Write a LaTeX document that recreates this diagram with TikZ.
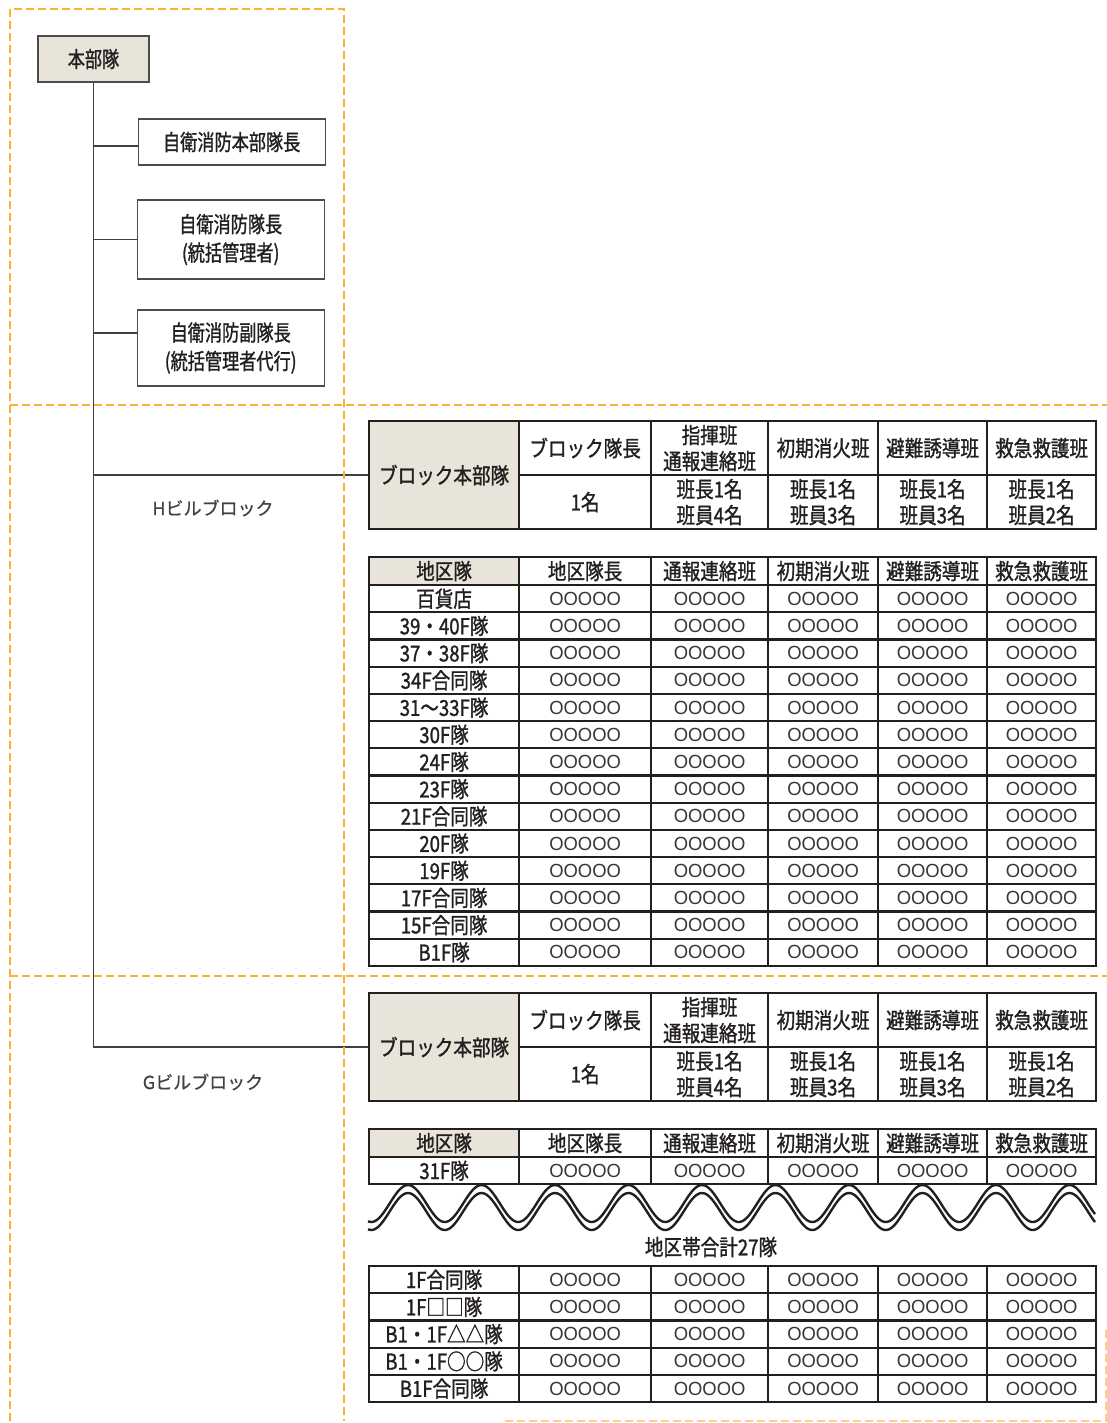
\documentclass[tikz,border=0pt]{standalone}
\usepackage{fontspec}
\newfontfamily\jpT[FakeStretch=0.845,FakeBold=1.2]{Noto Sans CJK JP}
\newfontfamily\jpL[FakeStretch=0.78,FakeBold=1.2]{Noto Sans CJK JP}
\newfontfamily\jpW[FakeBold=0.6]{Noto Sans CJK JP}
\newfontfamily\circf[FakeStretch=0.97]{Liberation Sans}
\definecolor{beige}{RGB}{233,228,218}
\definecolor{tx}{RGB}{35,31,32}
\definecolor{orng}{RGB}{250,178,50}
\newcommand\drow[3]{%
  \node[tcell, minimum width=150pt, minimum height=27.2pt] (#1-0) at (368,#2) {#3};
  \foreach \xx/\ww [count=\ii] in {518/132,650/117,767/110,877/109,986/109}
    \node[ccell, minimum width=\ww pt, minimum height=27.2pt] (#1-\ii) at (\xx,#2) {OOOOO};
}
\newcommand\btable[2]{%
  \pgfmathsetmacro\ya{#2+54}
  \node[tcell, fill=beige, minimum width=150pt, minimum height=108pt] (#1-hq) at (368,#2) {ブロック本部隊};
  \foreach \xx/\ww/\lab [count=\ii] in {518/132/ブロック隊長, 650/117/{指揮班\\通報連絡班}, 767/110/初期消火班, 877/109/避難誘導班, 986/109/救急救護班}
    \node[tcell, minimum width=\ww pt, minimum height=54pt] (#1-a\ii) at (\xx,#2) {\lab};
  \foreach \xx/\ww/\lab [count=\ii] in {518/132/1名, 650/117/{班長1名\\班員4名}, 767/110/{班長1名\\班員3名}, 877/109/{班長1名\\班員3名}, 986/109/{班長1名\\班員2名}}
    \node[tcell, minimum width=\ww pt, minimum height=54pt] (#1-b\ii) at (\xx,\ya) {\lab};
}
\newcommand\hrow[2]{%
  \node[tcell, fill=beige, minimum width=150pt, minimum height=28pt] (#1-0) at (368,#2) {地区隊};
  \foreach \xx/\ww/\lab [count=\ii] in {518/132/地区隊長, 650/117/通報連絡班, 767/110/初期消火班, 877/109/避難誘導班, 986/109/救急救護班}
    \node[tcell, minimum width=\ww pt, minimum height=28pt] (#1-\ii) at (\xx,#2) {\lab};
}
\begin{document}
\begin{tikzpicture}[x=1pt,y=-1pt,
  tcell/.style={draw=tx, line width=2.2pt, anchor=north west, inner sep=0pt, text=tx,
    font=\jpT\fontsize{22}{26}\selectfont, align=center},
  ccell/.style={tcell, font=\circf\fontsize{19}{20}\selectfont, text=tx!90},
  lbox/.style={draw=black!70, line width=1.3pt, text=tx, inner sep=0pt,
    font=\jpL\fontsize{22}{28.5}\selectfont, align=center},
  conn/.style={draw=black!75, line width=1.4pt},
  blab/.style={text=tx!85, font=\jpW\fontsize{18}{20}\selectfont},
  odash/.style={draw=orng, line width=2pt, dash pattern=on 8pt off 4pt},
  wavel/.style={draw=tx, line width=2.4pt}
]
\useasboundingbox (0,0) rectangle (1107,1423);

% headquarters tree
\node[lbox, fill=beige, minimum width=111pt, minimum height=46pt] (hq) at (93.5,59) {本部隊};
\node[lbox, minimum width=187pt, minimum height=46pt] (b1) at (231.7,142) {自衛消防本部隊長};
\node[lbox, minimum width=187pt, minimum height=79pt] (b2) at (230.7,239.6) {自衛消防隊長\\(統括管理者)};
\node[lbox, minimum width=187pt, minimum height=76pt] (b3) at (230.7,348) {自衛消防副隊長\\(統括管理者代行)};

% H block
\btable{H}{420}
\hrow{Hh}{556}
\foreach \lab [count=\r] in {百貨店,39・40F隊,37・38F隊,34F合同隊,31～33F隊,30F隊,24F隊,23F隊,21F合同隊,20F隊,19F隊,17F合同隊,15F合同隊,B1F隊}{
  \pgfmathsetmacro\yy{584+27.2*(\r-1)}
  \drow{Hr\r}{\yy}{\lab}
}
\node[blab] (hlab) at (213,508) {Hビルブロック};

% G block
\btable{G}{992}
\hrow{Gh}{1128}
\drow{Gr1}{1156}{31F隊}
\draw[wavel] plot[domain=368:1095, samples=400] (\x,{1203.5-18.5*cos(4.898*(\x-408))});
\draw[wavel] plot[domain=368:1095, samples=400] (\x,{1211.5-18.5*cos(4.898*(\x-408))});
\node[text=tx, font=\jpT\fontsize{22}{26}\selectfont] (tot) at (711,1247) {地区帯合計27隊};
\foreach \lab [count=\r] in {1F合同隊,1F□□隊,B1・1F△△隊,B1・1F○○隊,B1F合同隊}{
  \pgfmathsetmacro\yy{1265+27.2*(\r-1)}
  \drow{Gs\r}{\yy}{\lab}
}
\node[blab] (glab) at (203,1082) {Gビルブロック};

% connectors
\coordinate (c1) at ([yshift=-4pt]b1.west);
\coordinate (c3) at ([yshift=15pt]b3.west);
\draw[conn] (hq.south) -- (hq.south |- G-hq.west) -- (G-hq.west);
\draw[conn] (hq.south |- c1) -- (c1);
\draw[conn] (hq.south |- b2.west) -- (b2.west);
\draw[conn] (hq.south |- c3) -- (c3);
\draw[conn] (hq.south |- H-hq.west) -- (H-hq.west);

% dashed frames
\draw[odash] (10,1421) -- (10,9) -- (344,9) -- (344,1421);
\draw[odash] (10,405) -- (1107,405);
\draw[odash] (10,976) -- (1107,976);
\draw[odash, draw=orng!60] (505,1421) -- (1106,1421) -- (1106,1327);
\end{tikzpicture}
\end{document}
